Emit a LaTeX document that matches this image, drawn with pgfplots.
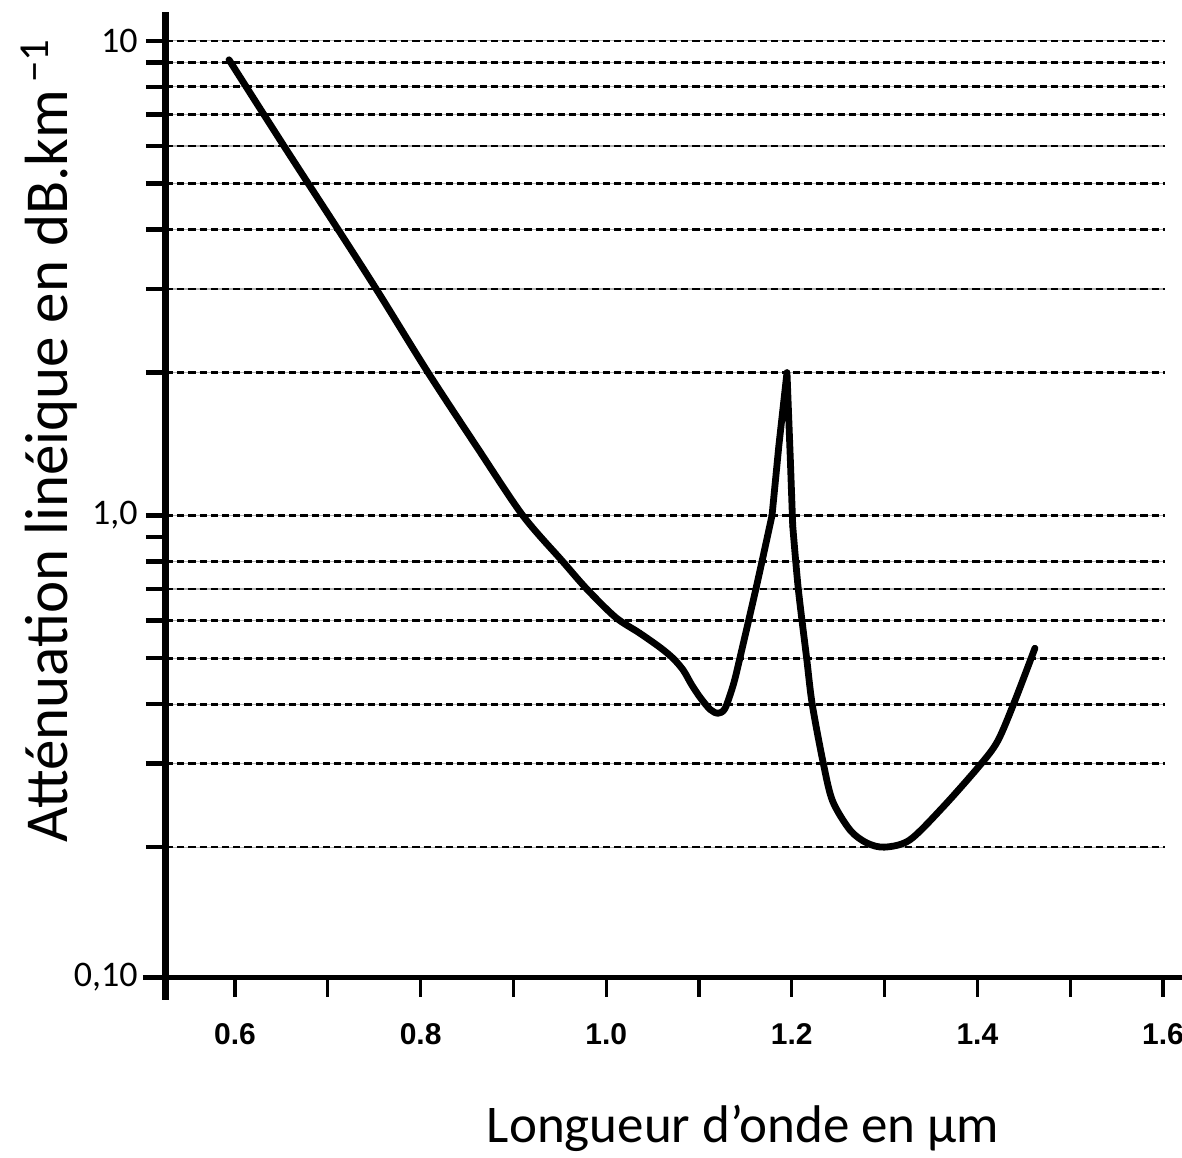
\documentclass[border=0pt]{standalone}
\usepackage{pgfplots}
\pgfplotsset{compat=1.18}
\usepackage{fontspec}
\setmainfont{Carlito}
\newfontfamily\tickfont{Liberation Sans}

\begin{document}
\begin{tikzpicture}
\begin{axis}[
  at={(0,0)}, anchor=south west,
  scale only axis, width=508pt, height=482.5pt,
  ymode=log,
  xmin=0.5256, xmax=1.6205, ymin=0.1065, ymax=11.5,
  clip=false,
  axis line style={draw=none},
  xtick pos=left, ytick pos=left,
  tick align=outside,
  major tick length=10pt,
  minor tick num=0,
  xtick={0.6,0.7,0.8,0.9,1.0,1.1,1.2,1.3,1.4,1.5,1.6},
  xticklabels={0.6,,0.8,,1.0,,1.2,,1.4,,1.6},
  ytick={0.2,0.3,0.4,0.5,0.6,0.7,0.8,0.9,1,2,3,4,5,6,7,8,9,10},
  yticklabels={,,,,,,,,\mbox{1,0},,,,,,,,,\mbox{10}},
  extra y ticks={0.1065},
  extra y tick labels={\mbox{0,10}},
  extra y tick style={ytick style={draw=none}},
  xtick style={line width=1.6pt, black},
  ytick style={line width=2.2pt, black},
  xticklabel style={font=\tickfont\bfseries\fontsize{15}{15}\selectfont, anchor=north, inner sep=0pt, yshift=-13pt},
  yticklabel style={font=\fontsize{18}{18}\selectfont, anchor=east, inner sep=0pt, xshift=-4pt},
  xlabel={Longueur d’onde en μm},
  xlabel style={at={(axis description cs:0.568,-0.172)}, anchor=base, font=\fontsize{26.5}{26.5}\selectfont},
  ylabel={Atténuation linéique en dB.km\textsuperscript{\,−1}},
  ylabel style={at={(axis description cs:-0.0974,0.556)}, anchor=base, rotate=0, font=\fontsize{30.5}{30.5}\selectfont},
]
% grid lines (gray under black dashes)
\pgfplotsinvokeforeach{0.2,0.3,0.4,0.5,0.6,0.7,0.8,1,2,3,4,5,6,7,8,9,10}{
  \draw[gray!60, line width=0.6pt] (axis cs:0.5256,#1) -- (axis cs:1.602,#1);
  \draw[black, line width=1.3pt, dash pattern=on 3.6pt off 2pt] (axis cs:0.5256,#1) -- (axis cs:1.602,#1);
}
% descending branch and first minimum
\addplot[black, line width=3.4pt, line join=round, line cap=round, smooth, tension=0.5] coordinates {
(0.5935,9.12) (0.654,5.95) (0.713,3.95) (0.754,2.96) (0.808,2.0) (0.861,1.39)
(0.910,1.0) (0.953,0.8) (0.979,0.7) (1.010,0.61) (1.036,0.565) (1.058,0.527)
(1.072,0.5) (1.083,0.472) (1.092,0.44) (1.101,0.414) (1.112,0.39) (1.1205,0.383)
(1.128,0.392) (1.137,0.44) (1.144,0.5) (1.162,0.71) (1.1787,1.0)
};
% sharp absorption peak
\addplot[black, line width=3.4pt, line join=round, line cap=round] coordinates {
(1.1787,1.0) (1.186,1.4) (1.1948,2.0) (1.1985,1.3) (1.201,0.95)
};
% second minimum and rising branch
\addplot[black, line width=3.4pt, line join=round, line cap=round, smooth, tension=0.5] coordinates {
(1.201,0.95) (1.207,0.7) (1.216,0.5)
(1.222,0.4) (1.234,0.3) (1.244,0.25) (1.263,0.217) (1.281,0.204) (1.300,0.2)
(1.327,0.207) (1.363,0.243) (1.403,0.298) (1.422,0.335) (1.440,0.405)
(1.462,0.525)
};
% axis lines, extended past the corner
\draw[line width=3.5pt] (rel axis cs:0,1) -- ([yshift=-11.5pt]rel axis cs:0,0);
\draw[line width=2.5pt] ([xshift=-11.5pt]rel axis cs:0,0) -- (rel axis cs:1,0);
\end{axis}
\pgfresetboundingbox
\path (-83pt,-90pt) rectangle (508pt,488.5pt);
\end{tikzpicture}
\end{document}
